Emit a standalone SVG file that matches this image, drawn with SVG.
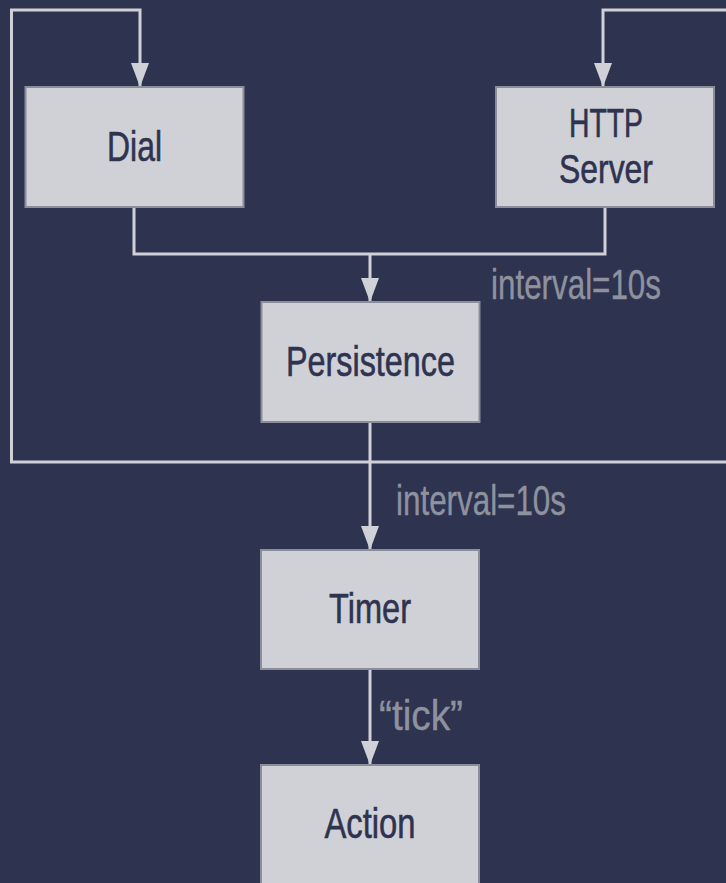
<svg xmlns="http://www.w3.org/2000/svg" width="726" height="883" viewBox="0 0 726 883">
<defs>
<style>
.box{fill:#d0d1d6;stroke:#8a8e9b;stroke-width:2}
.lbl{font-family:"Liberation Sans Narrow","Liberation Sans",sans-serif;font-size:43px;fill:#2e3350;text-anchor:middle;stroke:#2e3350;stroke-width:0.6}
.sm{font-size:40px}
.edge{fill:none;stroke:#d0d1d6;stroke-width:3}
.elbl{font-family:"Liberation Sans Narrow","Liberation Sans",sans-serif;font-size:43px;fill:#8e929e;stroke:#8e929e;stroke-width:0.4}
</style>
<marker id="ah" markerUnits="userSpaceOnUse" markerWidth="24" markerHeight="18" refX="24" refY="9" orient="auto" viewBox="0 0 24 18">
<path d="M0,0 L24,9 L0,18 Z" fill="#d0d1d6"/>
</marker>
</defs>
<rect width="726" height="883" fill="#2e3350"/>
<g id="connectors">
<path class="edge" d="M370,462 L11.5,462 L11.5,10 L140,10 L140,87" marker-end="url(#ah)"/>
<path class="edge" d="M370,462 L730,462"/>
<path class="edge" d="M730,10 L603,10 L603,87" marker-end="url(#ah)"/>
<path class="edge" d="M134,208 L134,254 L605,254 L605,208"/>
<path class="edge" d="M370,254 L370,302" marker-end="url(#ah)"/>
<path class="edge" d="M370,422 L370,550" marker-end="url(#ah)"/>
<path class="edge" d="M370,669 L370,765" marker-end="url(#ah)"/>
<text class="elbl" x="491" y="299" textLength="170" lengthAdjust="spacingAndGlyphs">interval=10s</text>
<text class="elbl" x="396" y="515" textLength="170" lengthAdjust="spacingAndGlyphs">interval=10s</text>
<text class="elbl" x="379" y="730" textLength="84" lengthAdjust="spacingAndGlyphs">“tick”</text>
</g>
<g id="dial">
<rect class="box" x="25.5" y="87" width="218" height="120"/>
<text class="lbl" x="134.5" y="161" textLength="55" lengthAdjust="spacingAndGlyphs">Dial</text>
</g>
<g id="http">
<rect class="box" x="496" y="87" width="218" height="120"/>
<text class="lbl sm" x="606" y="137" textLength="74" lengthAdjust="spacingAndGlyphs">HTTP</text>
<text class="lbl sm" x="606" y="183" textLength="94" lengthAdjust="spacingAndGlyphs">Server</text>
</g>
<g id="persistence">
<rect class="box" x="261.5" y="302" width="218" height="120"/>
<text class="lbl" x="370.5" y="376" textLength="169" lengthAdjust="spacingAndGlyphs">Persistence</text>
</g>
<g id="timer">
<rect class="box" x="261" y="550" width="218" height="119"/>
<text class="lbl" x="370" y="623" textLength="82" lengthAdjust="spacingAndGlyphs">Timer</text>
</g>
<g id="action">
<rect class="box" x="261" y="765" width="218" height="125"/>
<text class="lbl" x="370" y="838" textLength="91" lengthAdjust="spacingAndGlyphs">Action</text>
</g>
</svg>
